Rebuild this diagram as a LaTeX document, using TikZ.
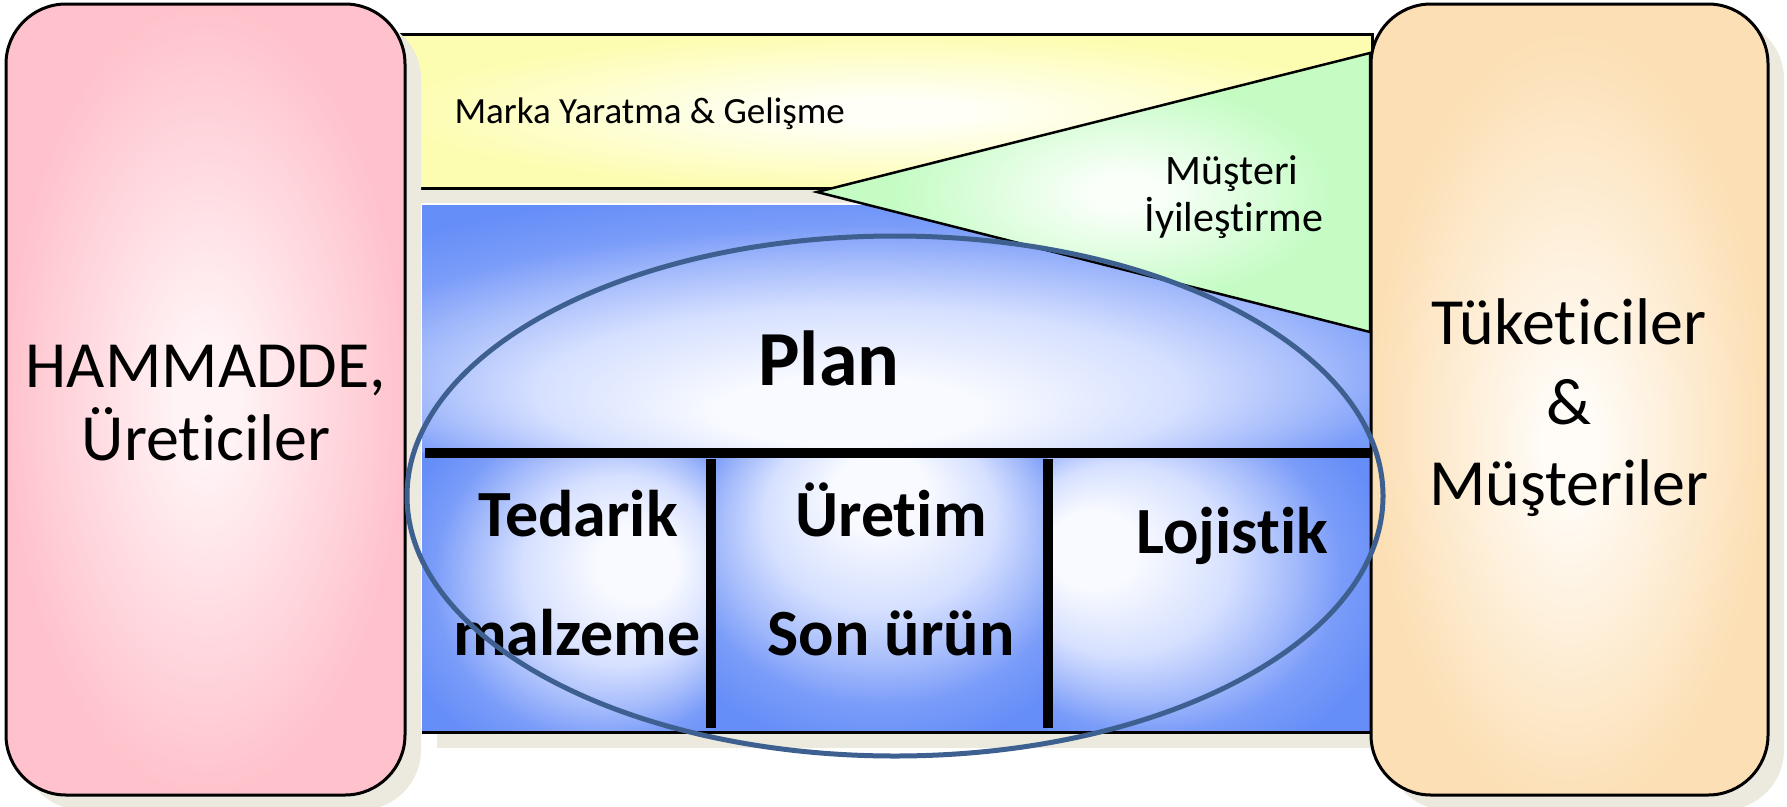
\documentclass[tikz,border=0pt]{standalone}
\usepackage{fontspec}
\setmainfont{Carlito}[Ligatures=CommonOff]
\usetikzlibrary{shapes.geometric}
\definecolor{shadowcol}{HTML}{ECEADE}
\definecolor{pinkin}{HTML}{FFF3F5}
\definecolor{pinkout}{HTML}{FFC2CC}
\definecolor{orangein}{HTML}{FFFCF7}
\definecolor{orangeout}{HTML}{FCDFB4}
\definecolor{yellowin}{HTML}{FFFFF8}
\definecolor{yellowout}{HTML}{FDFDB2}
\definecolor{greenin}{HTML}{FAFFFA}
\definecolor{greenout}{HTML}{C4FCC4}
\definecolor{bluein}{HTML}{F8FAFF}
\definecolor{bluemid}{HTML}{D6E0FF}
\definecolor{bluemid2}{HTML}{A3BAFB}
\definecolor{blueout}{HTML}{7A9CF9}
\definecolor{blueedge}{HTML}{668EF8}
\definecolor{ellcol}{HTML}{3D6090}
\pgfdeclareradialshading{pinkshade}{\pgfpoint{0bp}{0bp}}{color(0bp)=(pinkin); color(4bp)=(pinkin); color(25bp)=(pinkout); color(50bp)=(pinkout)}
\pgfdeclareradialshading{orangeshade}{\pgfpoint{0bp}{-3bp}}{color(0bp)=(orangein); color(3bp)=(orangein); color(25bp)=(orangeout); color(50bp)=(orangeout)}
\pgfdeclareradialshading{yellowshade}{\pgfpoint{0bp}{0bp}}{color(0bp)=(yellowin); color(4bp)=(yellowin); color(25bp)=(yellowout); color(50bp)=(yellowout)}
\pgfdeclareradialshading{greenshade}{\pgfpoint{3bp}{0bp}}{color(0bp)=(greenin); color(3bp)=(greenin); color(20bp)=(greenout); color(50bp)=(greenout)}
\newcommand{\mkblue}[3]{\pgfdeclareradialshading{#1}{\pgfpoint{#2bp}{#3bp}}{color(0bp)=(bluein); color(7bp)=(bluein); color(17bp)=(bluemid); color(24bp)=(bluemid2); color(29bp)=(blueout); color(35bp)=(blueedge); color(50bp)=(blueedge)}}
\mkblue{blueplan}{-3}{-19}
\mkblue{bluetedarik}{14}{6}
\mkblue{blueuretim}{0}{21}
\mkblue{bluelojistik}{-21}{9}
\begin{document}
\begin{tikzpicture}[x=1pt,y=-1pt,
  shadowbox/.style={fill=shadowcol, draw=none, inner sep=0pt},
  outline/.style={draw=black, line width=3pt},
  sidebox/.style={outline, rounded corners=60pt, minimum width=399pt, minimum height=791pt, inner sep=0pt},
  sidetext/.style={font=\fontsize{66}{78}\selectfont, anchor=base},
  celltext/.style={font=\fontsize{66}{78}\selectfont\bfseries, anchor=base},
  divider/.style={line width=10pt, black},
  bluecell/.style={draw=none, shade, inner sep=0pt, anchor=north west},
]
\useasboundingbox (0,0) rectangle (1787,806);
% yellow band
\node[shadowbox, minimum width=974pt, minimum height=154pt, anchor=north west] (yelsh) at (412,49) {};
\node[outline, shade, shading=yellowshade, minimum width=974pt, minimum height=154pt, anchor=north west, inner sep=0pt] (yel) at (397,33) {};
\node[font=\fontsize{37}{44}\selectfont, anchor=base west] (marka) at (451,123) {Marka Yaratma \& Gelişme};
% blue area
\node[shadowbox, minimum width=949pt, minimum height=527pt, anchor=north west] (bluesh) at (437,221) {};
\node[bluecell, shading=blueplan, minimum width=949pt, minimum height=249pt] (bplan) at (422,205) {};
\node[bluecell, shading=bluetedarik, minimum width=290pt, minimum height=279pt] (bted) at (422,453) {};
\node[bluecell, shading=blueuretim, minimum width=338pt, minimum height=279pt] (bure) at (711,453) {};
\node[bluecell, shading=bluelojistik, minimum width=324pt, minimum height=279pt] (bloj) at (1048,453) {};
\draw[black, line width=2.5pt] (bted.south west) -- (bloj.south east);
% triangle
\coordinate (tt) at (817,192);
\coordinate (tr) at (1370,53);
\coordinate (tb) at (1370,332);
\fill[shadowcol, shift={(13,16)}] (tt) -- (tr) -- (tb) -- cycle;
\shadedraw[shading=greenshade, draw=black, line width=2.5pt, line join=miter] (tt) -- (tr) -- (tb) -- cycle;
\node[font=\fontsize{42}{47}\selectfont, anchor=base] (must) at (1232,184) {Müşteri};
\node[font=\fontsize{42}{47}\selectfont, anchor=base] (iyi) at (1234,231) {İyileştirme};
% side boxes
\node[shadowbox, rounded corners=60pt, minimum width=399pt, minimum height=791pt] (rawsh) at (221.5,414.5) {};
\node[sidebox, shade, shading=pinkshade] (raw) at (205.5,399.5) {};
\node[sidetext] (raw1) at (206,387) {HAMMADDE,};
\node[sidetext] (raw2) at (206,460) {Üreticiler};
\node[shadowbox, rounded corners=60pt, minimum width=397pt, minimum height=791pt] (cussh) at (1585.5,414.5) {};
\node[sidebox, minimum width=397pt, shade, shading=orangeshade] (cus) at (1569.5,399.5) {};
\node[sidetext] (cus1) at (1569,344) {Tüketiciler};
\node[sidetext] (cus2) at (1569,424) {\&};
\node[sidetext] (cus3) at (1569,505) {Müşteriler};
% plan table
\coordinate (h1) at (425,453);
\coordinate (h2) at (1371,453);
\draw[divider] (h1) -- (h2);
\coordinate (v1t) at (711,459);
\coordinate (v1b) at (711,728);
\coordinate (v2t) at (1048,459);
\coordinate (v2b) at (1048,728);
\draw[divider] (v1t) -- (v1b);
\draw[divider] (v2t) -- (v2b);
\node[font=\fontsize{78}{90}\selectfont\bfseries, anchor=base] (plan) at (829,385) {Plan};
\node[celltext] (ted) at (578,536) {Tedarik};
\node[celltext] (ure) at (891,536) {Üretim};
\node[celltext] (loj) at (1232,553) {Lojistik};
\node[celltext] (malz) at (577,655) {malzeme};
\node[celltext] (son) at (891,655) {Son ürün};
% ellipse
\node[draw=ellcol, line width=5pt, ellipse, minimum width=976pt, minimum height=520pt, inner sep=0pt] (ell) at (895,496) {};
\end{tikzpicture}
\end{document}
